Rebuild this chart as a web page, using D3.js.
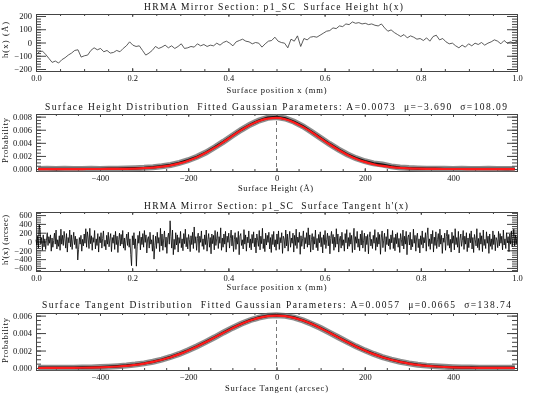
<!DOCTYPE html>
<html>
<head>
<meta charset="utf-8">
<script src="https://cdn.jsdelivr.net/npm/d3@7"></script>
<style>
  body { margin: 0; background: #fff; }
  svg { display: block; will-change: transform; }
  text { font-family: "Liberation Serif", "DejaVu Serif", serif; fill: #111; white-space: pre; }
</style>
</head>
<body>
<div id="chart"></div>
<script>
// surface height h(x) in Angstrom, evenly sampled over 0..1 mm
const heightProfile = [
  -95, -70, -65, -90, -120, -150, -140, -155, -130, -115, -95, -80, -60, -55, -110, -100,
  -95, -60, -40, -55, -45, -70, -60, -80, -75, -60, -70, -45, -25, 5, -20, -30,
  -25, -60, -95, -80, -60, -30, -45, -35, -20, -40, -25, -45, -30, -10, -45, -40,
  -30, -35, -10, -25, -15, -30, -20, -25, -5, -20, 0, 10, -5, -25, 5, 15,
  25, 10, 5, -10, 0, -5, -35, -10, 10, 15, 40, 10, 0, -5, -40, 25,
  10, 50, -30, 30, 20, 40, 45, 40, 55, 70, 85, 90, 110, 105, 125, 120,
  140, 135, 155, 145, 150, 140, 145, 135, 140, 130, 125, 140, 110, 85, 95, 75,
  60, 45, 60, 35, 50, 40, 25, 30, 15, 35, 10, 45, 55, 20, 30, 5,
  -10, -5, -25, -40, -20, -35, -10, -25, -5, -15, 0, -20, -5, 5, 20, 10,
  -10, 15, -5, 5, -5, 10
];

// surface tangent h'(x) in arcsec, evenly sampled over 0..1 mm
const tangentProfile = [
  40, -80, 120, -150, 380, 250, -60, 90, -200, 150, -120, 60, -180, 30, 200, -90, 110, -40, 150, -220, 80, -130, 20, 190, -60, 260, -170, 40, -110, 130,
  -200, 280, -60, 140, -90, 230, 60, -150, 180, -240, 90, -30, 260, -120, 150, -180, 40, 210, -70, 120, -160, 60, -420, -180, 90, -60, 140, -220, 50, -100,
  170, -40, 290, -130, 220, 80, -160, 300, -50, 130, -200, 90, -20, 250, -170, 60, -90, 180, -240, 110, -30, 200, -150, 70, 240, -110, 30, -190, 140, -60,
  210, -120, 60, 180, -230, 90, -40, 150, -180, 230, -70, 120, -250, 40, 190, -100, 160, -60, 250, -150, 80, -200, 30, 170, -90, 210, -130, 60, -300, -550,
  130, -80, 200, -160, 60, -560, -120, 140, -40, 230, -190, 100, -70, 180, -130, 250, -20, 150, -260, 60, 110, -150, 210, -60, 40, -220, 150, -400, -90, 120,
  -160, 210, -40, 90, -230, 300, -100, 170, -200, 60, 240, -130, 100, -270, 80, 190, -60, 470, 120, -150, 260, -300, 50, -180, 200, -80, 150, -240, 90, -40,
  230, -140, 60, -210, 180, -50, 280, -120, 90, -170, 160, 40, -230, 130, -70, 210, -160, 330, -40, 110, -200, 70, 190, -250, 120, -20, 240, -110, 60, -180,
  150, -70, 260, -220, 40, 180, -130, 90, -280, 170, -50, 140, -190, 250, -90, 60, 220, -160, 110, -40, 310, -200, 80, -130, 170, -60, 230, -240, 120, -20,
  190, -150, 70, 260, -100, 140, -230, 40, 200, -180, 90, -60, 230, -300, 120, 180, -90, 40, -170, 270, -60, 150, -220, 100, -30, 240, -140, 60, -190, 160,
  -40, 220, -120, 80, -260, 170, 30, -110, 250, -190, 120, -50, 300, -160, 60, -230, 190, -80, 140, -20, 210, -170, 90, -250, 160, -70, 230, -120, 40, -200,
  170, -60, 240, -180, 90, -30, 200, -270, 120, 60, -150, 260, -100, 170, -220, 50, 230, -130, 80, -40, 190, -240, 140, -90, 280, -160, 100, -20, 210, -290,
  130, -110, 60, 240, -170, 90, -50, 200, -130, 310, -80, 150, -240, 40, 180, -190, 110, -60, 260, -140, 70, -210, 160, -30, 220, -120, 90, -260, 150, -70,
  250, -160, 40, 190, -100, 130, -280, 70, 230, -50, 160, -200, 100, -130, 290, -60, 170, -240, 60, 120, -150, 210, -90, 40, -220, 180, -30, 270, -170, 90,
  -110, 200, -60, 140, -250, 80, 300, -190, 110, -40, 230, -130, 60, -210, 170, -80, 250, -150, 30, 190, -230, 120, -70, 160, -280, 90, 220, -100, 50, -160,
  140, -40, 270, -200, 90, -120, 210, -60, 160, -290, 80, 240, -140, 30, 190, -230, 110, -70, 280, -100, 60, -180, 150, -30, 250, -160, 90, -210, 170, -50,
  200, -130, 70, -250, 180, 40, -100, 260, -170, 120, -60, 230, -300, 90, 150, -80, 210, -190, 50, -120, 280, -40, 140, -220, 100, 190, -140, 60, -260, 130,
  -70, 240, -150, 90, -30, 200, -220, 130, 310, -110, 60, -180, 170, -50, 250, -240, 100, -90, 220, -160, 40, 180, -120, 280, -60, 140, -270, 80, -20, 190,
  -200, 110, 260, -90, 160, -150, 50, -240, 210, -40, 130, -190, 290, -70, 90, -130, 230, -260, 60, 170, -110, 30, 250, -180, 120, -60, 200, -230, 80, -140,
  180, -30, 240, -170, 90, -250, 160, 40, -100, 290, -140, 70, -200, 200, -60, 130, -230, 260, -90, 50, -160, 220, -40, 120, -270, 170, -110, 60, -180, 240,
  -70, 150, -210, 90, 30, -140, 230, -100, 180, -40, 120, -190, 260, -80, 60, -160, 200, -30, 110, -230, 170, -60, 240, -120, 80, 280, -100, 150, -60, 120
];

// histogram bin centres, -540 .. 540 step 20
const distBins = d3.range(-540, 541, 20);

const heightHist = [
  0.00002, 0.00003, 0.00001, 0.00003, 0.00002, 0.00002, 0.00003, 0.00002, 0.00004, 0.00005,
  0.00008, 0.00012, 0.00018, 0.00028, 0.00042, 0.00062, 0.00095, 0.00135, 0.00187, 0.00252,
  0.00332, 0.00418, 0.00510, 0.00598, 0.00676, 0.00740, 0.00782, 0.00794, 0.00772, 0.00722,
  0.00652, 0.00566, 0.00474, 0.00384, 0.00300, 0.00226, 0.00166, 0.00119, 0.00086, 0.00068,
  0.00041, 0.00022, 0.00014, 0.00009, 0.00006, 0.00004, 0.00003, 0.00002, 0.00003, 0.00002,
  0.00002, 0.00003, 0.00002, 0.00001, 0.00002
];
const heightFit = [
  0, 0, 0, 0, 0, 0.000001, 0.000003, 0.000005, 0.00001, 0.00002,
  0.000038, 0.00007, 0.000125, 0.000215, 0.000356, 0.000565, 0.000865, 0.001276, 0.001811, 0.002477,
  0.003262, 0.004137, 0.005052, 0.005941, 0.006728, 0.007337, 0.007706, 0.007794, 0.007591, 0.00712,
  0.006431, 0.005593, 0.004685, 0.003779, 0.002935, 0.002196, 0.001582, 0.001097, 0.000733, 0.000471,
  0.000292, 0.000174, 0.0001, 0.000055, 0.00003, 0.000015, 0.000008, 0.000004, 0.000002, 0.000001,
  0, 0, 0, 0, 0
];

const tangentHist = [
  0.00002, 0.00003, 0.00002, 0.00003, 0.00004, 0.00005, 0.00007, 0.0001, 0.00014, 0.0002,
  0.00028, 0.00039, 0.00053, 0.00072, 0.00096, 0.00126, 0.00161, 0.00203, 0.00249, 0.00300,
  0.00352, 0.00407, 0.00459, 0.00506, 0.00547, 0.00578, 0.00598, 0.00604, 0.00597, 0.00578,
  0.00545, 0.00505, 0.00458, 0.00406, 0.00352, 0.00299, 0.00248, 0.00202, 0.00161, 0.00125,
  0.00096, 0.00072, 0.00053, 0.00038, 0.00027, 0.00019, 0.00013, 0.00009, 0.00006, 0.00005,
  0.00004, 0.00003, 0.00002, 0.00003, 0.00002
];
const tangentFit = [
  0.000002, 0.000004, 0.000006, 0.000011, 0.000018, 0.00003, 0.000047, 0.000074, 0.000114, 0.000171,
  0.000252, 0.000361, 0.000508, 0.000698, 0.000939, 0.001236, 0.00159, 0.002002, 0.002467, 0.002972,
  0.003505, 0.004042, 0.004561, 0.005034, 0.005436, 0.005742, 0.005934, 0.0060, 0.005934, 0.005742,
  0.005436, 0.005034, 0.004561, 0.004042, 0.003505, 0.002972, 0.002467, 0.002002, 0.00159, 0.001236,
  0.000939, 0.000698, 0.000508, 0.000361, 0.000252, 0.000171, 0.000114, 0.000074, 0.000047, 0.00003,
  0.000018, 0.000011, 0.000006, 0.000004, 0.000002
];

// tick labels
const posTicks = [0, 0.2, 0.4, 0.6, 0.8, 1.0];
const heightTicks = [-200, -100, 0, 100, 200];
const slopeTicks = [-600, -400, -200, 0, 200, 400, 600];
const distTicks = [-400, -200, 0, 200, 400];
const probTicksH = [0, 0.002, 0.004, 0.006, 0.008];
const probTicksT = [0, 0.002, 0.004, 0.006];

const W = 538, H = 400;
const L = 36, R = 517;

const svg = d3.select("#chart").append("svg").attr("width", W).attr("height", H);

function addText(str, x, y, size, width, rotate) {
  const t = svg.append("text")
    .attr("x", x).attr("y", y)
    .attr("text-anchor", "middle")
    .attr("xml:space", "preserve")
    .style("font-size", size + "px")
    .style("fill", "#111")
    .text(str);
  if (width) t.attr("textLength", width).attr("lengthAdjust", "spacing");
  if (rotate) t.attr("transform", `rotate(-90,${x},${y})`);
  return t;
}

function styleAxis(g) {
  g.select(".domain").remove();
  g.selectAll("line").attr("stroke", "#444");
  g.selectAll("text")
    .style("font-size", "8.5px")
    .style("fill", "#111");
  g.attr("font-family", null).attr("font-size", null);
}

function frame(p) {
  const x = d3.scaleLinear().domain(p.xDomain).range([L, R]);
  const y = d3.scaleLinear().domain(p.yDomain).range([p.bottom, p.top]);

  // y axis left: major + minor
  svg.append("g").attr("transform", `translate(${L},0)`)
    .call(d3.axisLeft(y).tickValues(p.yMinor).tickSize(-5).tickFormat(""))
    .call(styleAxis);
  svg.append("g").attr("transform", `translate(${L},0)`)
    .call(d3.axisLeft(y).tickValues(p.yTicks).tickSize(-10).tickPadding(4).tickFormat(p.yFormat))
    .call(styleAxis);
  // y axis right, no labels
  svg.append("g").attr("transform", `translate(${R},0)`)
    .call(d3.axisRight(y).tickValues(p.yMinor).tickSize(-5).tickFormat(""))
    .call(styleAxis);
  svg.append("g").attr("transform", `translate(${R},0)`)
    .call(d3.axisRight(y).tickValues(p.yTicks).tickSize(-10).tickFormat(""))
    .call(styleAxis);

  // x axis bottom and top
  svg.append("g").attr("transform", `translate(0,${p.bottom})`)
    .call(d3.axisBottom(x).tickValues(p.xMinor).tickSize(-2).tickFormat(""))
    .call(styleAxis);
  svg.append("g").attr("transform", `translate(0,${p.bottom})`)
    .call(d3.axisBottom(x).tickValues(p.xTicks).tickSize(-3).tickPadding(4).tickFormat(p.xFormat))
    .call(styleAxis);
  svg.append("g").attr("transform", `translate(0,${p.top})`)
    .call(d3.axisTop(x).tickValues(p.xMinor).tickSize(-2).tickFormat(""))
    .call(styleAxis);
  svg.append("g").attr("transform", `translate(0,${p.top})`)
    .call(d3.axisTop(x).tickValues(p.xTicks).tickSize(-3).tickFormat(""))
    .call(styleAxis);

  svg.append("rect")
    .attr("x", L + 0.5).attr("y", p.top + 0.5)
    .attr("width", R - L).attr("height", p.bottom - p.top)
    .attr("fill", "none").attr("stroke", "#444");

  return { x, y };
}

function step(lo, hi, s) {
  return d3.range(lo, hi + s / 2, s);
}

// ---- panel 1: surface height ----
const p1 = frame({
  top: 14, bottom: 71, xDomain: [0, 1], yDomain: [-215, 215],
  xTicks: posTicks, xMinor: step(0, 1, 0.05), xFormat: d3.format(".1f"),
  yTicks: heightTicks, yMinor: step(-200, 200, 20), yFormat: d3.format("d")
});
svg.append("path")
  .datum(heightProfile)
  .attr("fill", "none").attr("stroke", "#333").attr("stroke-width", 0.8)
  .attr("d", d3.line()
    .x((d, i) => p1.x(i / (heightProfile.length - 1)))
    .y((d) => p1.y(d)));

addText("HRMA Mirror Section: p1_SC  Surface Height h(x)", 273.5, 10, 9.5, 259);
addText("Surface position x (mm)", 276.5, 92.5, 8.5, 100);
addText("h(x) (Å)", 8, 40, 8.5, 36, true);

// ---- panel 2: height distribution ----
const p2 = frame({
  top: 114, bottom: 171, xDomain: [-545, 545], yDomain: [-0.0003, 0.0084],
  xTicks: distTicks, xMinor: step(-500, 500, 50), xFormat: d3.format("d"),
  yTicks: probTicksH, yMinor: step(0, 0.008, 0.0005), yFormat: d3.format(".3f")
});

function distPanel(p, hist, fit) {
  const line = d3.line().x((d, i) => p.x(distBins[i])).y((d) => p.y(d));
  svg.append("line")
    .attr("x1", p.x(0)).attr("x2", p.x(0))
    .attr("y1", p.y.range()[1]).attr("y2", p.y.range()[0])
    .attr("stroke", "#777").attr("stroke-dasharray", "4,3");
  svg.append("path").datum(hist)
    .attr("fill", "none").attr("stroke", "#666").attr("stroke-opacity", 0.75)
    .attr("stroke-width", 6).attr("d", line);
  svg.append("path").datum(hist)
    .attr("fill", "none").attr("stroke", "#111")
    .attr("stroke-width", 2.4).attr("d", line);
  svg.append("path").datum(fit)
    .attr("fill", "none").attr("stroke", "#ff1a1a")
    .attr("stroke-width", 2.2)
    .attr("d", d3.line().curve(d3.curveMonotoneX)
      .x((d, i) => p.x(distBins[i])).y((d) => p.y(d)));
}
distPanel(p2, heightHist, heightFit);

addText("Surface Height Distribution  Fitted Gaussian Parameters: A=0.0073  μ=−3.690  σ=108.09", 276, 110, 9.5, 462);
addText("Surface Height (Å)", 275.5, 191, 8.5, 75);
addText("Probability", 8, 140.5, 8.5, 45, true);

// ---- panel 3: surface tangent ----
const p3 = frame({
  top: 212, bottom: 271, xDomain: [0, 1], yDomain: [-670, 670],
  xTicks: posTicks, xMinor: step(0, 1, 0.05), xFormat: d3.format(".1f"),
  yTicks: slopeTicks, yMinor: step(-650, 650, 50), yFormat: d3.format("d")
});
svg.append("path")
  .datum(tangentProfile)
  .attr("fill", "none").attr("stroke", "#000").attr("stroke-width", 0.8)
  .attr("d", d3.line()
    .x((d, i) => p3.x(i / (tangentProfile.length - 1)))
    .y((d) => p3.y(d)));

addText("HRMA Mirror Section: p1_SC  Surface Tangent h'(x)", 276, 209, 9.5, 264);
addText("Surface position x (mm)", 276.5, 290, 8.5, 100);
addText("h'(x) (arcsec)", 8, 240, 8.5, 50, true);

// ---- panel 4: tangent distribution ----
const p4 = frame({
  top: 313, bottom: 370, xDomain: [-545, 545], yDomain: [-0.00023, 0.0063],
  xTicks: distTicks, xMinor: step(-500, 500, 50), xFormat: d3.format("d"),
  yTicks: probTicksT, yMinor: step(0, 0.006, 0.0005), yFormat: d3.format(".3f")
});
distPanel(p4, tangentHist, tangentFit);

addText("Surface Tangent Distribution  Fitted Gaussian Parameters: A=0.0057  μ=0.0665  σ=138.74", 276.5, 308, 9.5, 469);
addText("Surface Tangent (arcsec)", 276.5, 390.5, 8.5, 103);
addText("Probability", 8, 340.5, 8.5, 45, true);
</script>
</body>
</html>
